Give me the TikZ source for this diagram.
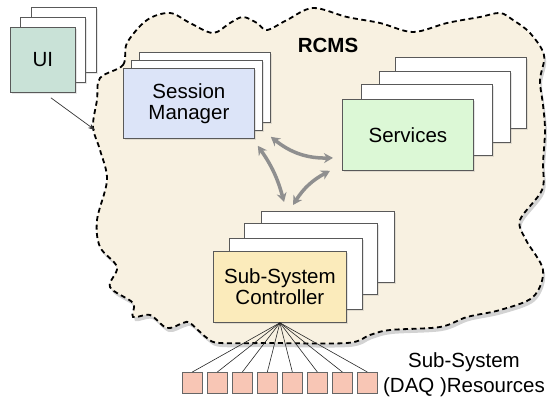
\documentclass[tikz,border=0pt]{standalone}
\usepackage{fontspec}
\setmainfont{Liberation Sans}
\usetikzlibrary{shadows,arrows.meta}

\definecolor{cloudfill}{HTML}{F8F1E1}
\definecolor{uifill}{HTML}{C9E2D7}
\definecolor{smfill}{HTML}{DCE4F8}
\definecolor{svfill}{HTML}{DCF8D6}
\definecolor{sscfill}{HTML}{FBEBBB}
\definecolor{resfill}{HTML}{F8C6B5}
\definecolor{linkgray}{HTML}{8F8F8F}

\begin{document}
\begin{tikzpicture}[x=1pt, y=-1pt,
    boxtext/.style={font=\fontsize{20.5}{21}\selectfont, align=center},
    stackbox/.style={draw=black!65, fill=white, line width=0.8pt, inner sep=0pt,
        minimum width=131pt, minimum height=71pt, anchor=north west,
        drop shadow={opacity=0.2, shadow xshift=1.5pt, shadow yshift=-1.5pt}},
    resbox/.style={draw=black!60, fill=resfill, line width=0.7pt, inner sep=0pt,
        minimum width=20pt, minimum height=21pt, anchor=north west,
        drop shadow={opacity=0.2, shadow xshift=1pt, shadow yshift=-1pt}},
    link/.style={draw=linkgray, line width=3.5pt,
        {Stealth[length=9pt,width=10pt]}-{Stealth[length=9pt,width=10pt]}},
    fanline/.style={draw=black!85, line width=0.6pt}]

    \useasboundingbox (0,0) rectangle (547,399);

    % the RCMS cloud
    \draw[fill=cloudfill, line width=1.8pt, dash pattern=on 5pt off 3.5pt,
        drop shadow={opacity=0.35, shadow xshift=2pt, shadow yshift=-4pt}]
        plot[smooth cycle, tension=0.55] coordinates {
        (100,78) (123,65) (127,43) (147,20) (170,13) (190,23) (213,33) (230,23)
        (243,17) (257,23) (267,30) (287,20) (313,8) (347,17) (380,23) (413,32)
        (447,23) (480,17) (500,13) (513,20) (530,33) (544,55) (540,80) (543,105)
        (545,130) (543,163) (542,190) (520,220) (526,240) (543,270) (533,297)
        (500,310) (467,317) (440,327) (390,330) (370,335) (347,343) (270,343)
        (220,343) (207,338) (190,323) (183,323) (167,328) (150,315) (133,317)
        (133,303) (110,287) (117,267) (100,247) (97,220) (107,180) (100,150)
        (93,127) (97,100)};
    \node[font=\bfseries\fontsize{20.5}{21}\selectfont] (rcms) at (328,45) {RCMS};

    % UI stack
    \foreach \p [count=\i] in {(31,7),(20,17)}
        \node[stackbox, minimum width=65pt, minimum height=65pt] (ui\i) at \p {};
    \node[stackbox, boxtext, fill=uifill, minimum width=65pt, minimum height=65pt] (ui) at (10,27) {UI};

    % Session Manager stack
    \foreach \p [count=\i] in {(139,52),(131,60)}
        \node[stackbox, minimum height=70pt] (sm\i) at \p {};
    \node[stackbox, boxtext, fill=smfill, minimum height=70pt] (sm) at (123,68) {Session\\Manager};

    % Services stack
    \foreach \p [count=\i] in {(395,57),(379,71),(361,84)}
        \node[stackbox] (sv\i) at \p {};
    \node[stackbox, boxtext, fill=svfill] (sv) at (342,99) {Services};

    % Sub-System Controller stack
    \foreach \p [count=\i] in {(261,211),(244,223),(229,238)}
        \node[stackbox, minimum width=133pt] (ssc\i) at \p {};
    \node[stackbox, boxtext, fill=sscfill, minimum width=133pt] (ssc) at (213,251) {Sub-System\\Controller};

    % links between the RCMS parts
    \draw[link] ([shift={(16pt,2pt)}]sm.south east) to[bend right=20] ([shift={(-9pt,-23pt)}]sv.west);
    \draw[link] ([shift={(3pt,-7pt)}]sm.south east) to[bend left=10] ([shift={(23pt,9pt)}]ssc1.north west);
    \draw[link] ([shift={(32pt,6pt)}]ssc1.north west) to[bend left=15] ([shift={(-12pt,0pt)}]sv.south west);

    % UI into the cloud
    \coordinate (uitip) at (95,130);
    \draw[-{Stealth[length=7pt,width=5pt]}, black!80, line width=0.7pt] ([shift={(8pt,-5pt)}]ui.south) -- (uitip);

    % resources
    \foreach \i in {1,...,8}
        \node[resbox] (res\i) at (157+25*\i, 372) {};
    \foreach \i in {1,...,8}
        \draw[fanline] (ssc.south) -- (res\i.north);
    \node[font=\fontsize{20.5}{24.5}\selectfont, align=center] (reslabel) at (464,374.5) {Sub-System\\(DAQ )Resources};

\end{tikzpicture}
\end{document}
